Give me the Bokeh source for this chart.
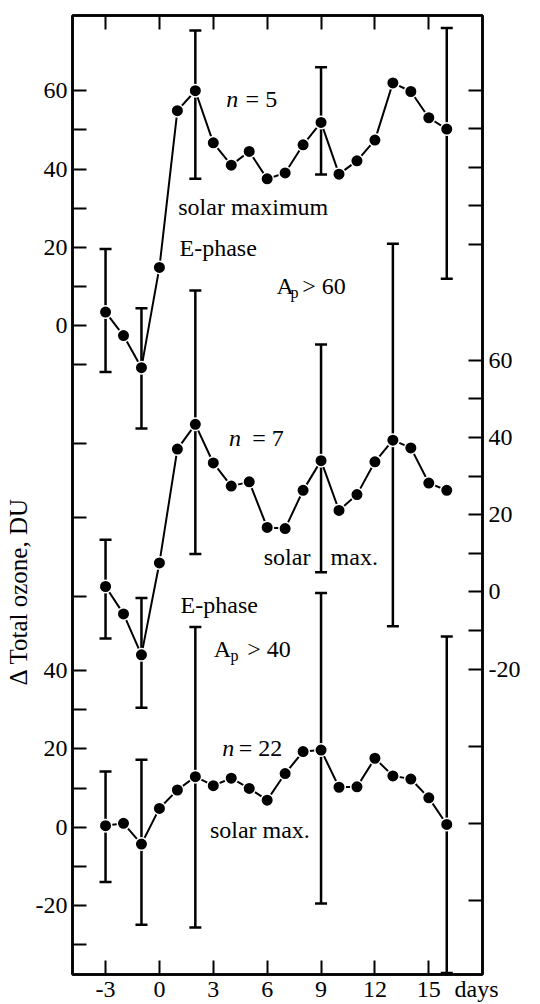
import math
from bokeh.plotting import figure
from bokeh.models import (ColumnDataSource, Range1d, LinearAxis, FixedTicker,
                          Whisker, TeeHead, Label, Title)
from bokeh.embed import file_html
from bokeh.resources import INLINE

# ---------------- data ----------------
days = list(range(-3, 17))
x_ticks = [-3, 0, 3, 6, 9, 12, 15]
x_unit_pos = 17.66          # where the "days" unit label sits on the x axis

# top series (Ap > 60, n = 5) -- left axis, upper part
top_vals = [3.5, -2.5, -10.7, 14.9, 54.9, 60.0, 46.7, 41.0, 44.5, 37.5,
            39.0, 46.2, 51.9, 38.7, 42.1, 47.4, 62.0, 59.8, 53.1, 50.2]
top_err_days = [-3, -1, 2, 9, 16]
top_err_upper = [19.6, 4.5, 75.4, 66.0, 76.0]
top_err_lower = [-11.8, -26.2, 37.5, 38.6, 12.0]

# middle series (Ap > 40, n = 7) -- right axis
mid_vals = [1.4, -5.7, -16.3, 7.5, 37.0, 43.4, 33.4, 27.4, 28.5, 16.7,
            16.4, 26.3, 34.0, 21.1, 25.2, 33.7, 39.3, 37.3, 28.2, 26.3]
mid_err_days = [-3, -1, 2, 9, 13]
mid_err_upper = [13.5, -1.6, 78.1, 64.1, 90.2]
mid_err_lower = [-12.1, -30.0, 9.8, 5.1, -8.9]

# bottom series (n = 22) -- left axis, lower part
bot_vals = [0.4, 1.0, -4.3, 4.8, 9.5, 12.9, 10.6, 12.5, 9.9, 6.9,
            13.7, 19.3, 19.7, 10.2, 10.3, 17.6, 13.1, 12.3, 7.5, 0.7]
bot_err_days = [-3, -1, 2, 9, 16]
bot_err_upper = [14.2, 17.2, 51.1, 59.8, 48.7]
bot_err_lower = [-14.0, -24.9, -25.6, -19.5, -37.2]

# axis ticks
top_offset = 128  # top series zero sits at 128 on the left (bottom-series) scale
left_ticks = [-30, -20, -10, 0, 10, 20, 30, 40, 59, 79, 98,
              118, 128, 138, 148, 158, 168, 178, 188]
left_labels = {-20: "-20", 0: "0", 20: "20", 40: "40",
               128: "0", 148: "20", 168: "40", 188: "60"}
right_ticks = [-80, -60, -40, -20, -10, 0, 10, 20, 30, 40, 50, 60,
               90, 100, 110, 120, 130]
right_labels = {-20: "-20", 0: "0", 20: "20", 40: "40", 60: "60"}

FONT = "Liberation Serif"
TICK_FS = "24px"
ANN_FS = "24px"

# ---------------- figure ----------------
y0, y1 = -37.6, 207.2
p = figure(width=540, height=1004,
           x_range=Range1d(-4.84, 17.99), y_range=Range1d(y0, y1),
           output_backend="svg", toolbar_location=None,
           min_border_left=72, min_border_right=58,
           min_border_top=15, min_border_bottom=28,
           background_fill_color="white", border_fill_color="white",
           outline_line_color="black", outline_line_width=2.5)
p.xgrid.visible = False
p.ygrid.visible = False

p.extra_y_ranges = {
    "top": Range1d(y0 - top_offset, y1 - top_offset),
    "mid": Range1d(-99.1, 149.3),
}


def style_axis(ax, ticks, overrides, labels_visible=True, tick_in=14):
    ax.ticker = FixedTicker(ticks=ticks, minor_ticks=[])
    ax.major_label_overrides = overrides
    ax.major_tick_in = tick_in
    ax.major_tick_out = 0
    ax.minor_tick_in = 0
    ax.minor_tick_out = 0
    ax.major_tick_line_width = 2
    ax.major_tick_line_color = "black"
    ax.axis_line_width = 2.5
    ax.axis_line_color = "black"
    ax.major_label_text_font = FONT
    ax.major_label_text_font_size = TICK_FS if labels_visible else "0px"
    ax.major_label_text_color = "black"


# left axis
left = p.yaxis[0]
style_axis(left, left_ticks,
           {t: left_labels.get(t, "") for t in left_ticks})
left.major_label_standoff = 5

# bottom axis: tick marks only (nearest the frame)
bottom = p.xaxis[0]
style_axis(bottom, x_ticks, {t: "" for t in x_ticks}, labels_visible=False)
bottom.major_label_standoff = 0

# bottom labels axis (numbers + unit), no tick marks
bottom_lab = LinearAxis()
lab_ticks = x_ticks + [x_unit_pos]
lab_over = {t: str(t) for t in x_ticks}
lab_over[x_unit_pos] = "days"
style_axis(bottom_lab, lab_ticks, lab_over, tick_in=0)
bottom_lab.axis_line_color = None
bottom_lab.major_tick_line_color = None
bottom_lab.major_label_standoff = 1
p.add_layout(bottom_lab, "below")

# right axis (middle series)
right = LinearAxis(y_range_name="mid")
style_axis(right, right_ticks,
           {t: right_labels.get(t, "") for t in right_ticks})
right.major_label_standoff = 6
p.add_layout(right, "right")

# top axis (ticks only)
above = LinearAxis()
style_axis(above, x_ticks, {t: "" for t in x_ticks}, labels_visible=False)
above.major_label_standoff = 0
p.add_layout(above, "above")

# y-axis title, placed low as in the original
p.add_layout(Title(text="\u0394 Total ozone, DU", align="left", offset=289,
                   vertical_align="middle", standoff=0,
                   text_font=FONT, text_font_size="25px",
                   text_font_style="normal", text_color="black"), "left")


# ---------------- series ----------------
def draw_series(vals, err_days, err_up, err_lo, range_name):
    src = ColumnDataSource(dict(x=days, y=vals))
    esrc = ColumnDataSource(dict(x=err_days, upper=err_up, lower=err_lo))
    w = Whisker(source=esrc, base="x", upper="upper", lower="lower",
                dimension="height", line_width=2.5, line_color="black",
                upper_head=TeeHead(size=12, line_width=2.5, line_color="black"),
                lower_head=TeeHead(size=12, line_width=2.5, line_color="black"),
                level="underlay")
    if range_name != "default":
        w.y_range_name = range_name
    p.add_layout(w)
    p.line("x", "y", source=src, line_width=2, line_color="black",
           y_range_name=range_name)
    p.scatter("x", "y", source=src, marker="circle", size=12.5,
              fill_color="black", line_color="white", line_width=1.5,
              y_range_name=range_name)


draw_series(top_vals, top_err_days, top_err_upper, top_err_lower, "top")
draw_series(mid_vals, mid_err_days, mid_err_upper, mid_err_lower, "mid")
draw_series(bot_vals, bot_err_days, bot_err_upper, bot_err_lower, "default")


# ---------------- annotations ----------------
def txt(text, x, y, rng="default", size=ANN_FS, style="normal"):
    lab = Label(x=x, y=y, text=text, text_font=FONT, text_font_size=size,
                text_font_style=style, text_color="black",
                text_align="left", text_baseline="alphabetic")
    if rng != "default":
        lab.y_range_name = rng
    p.add_layout(lab)


# top block
txt("n", 3.72, 57.9, "top", style="italic")
txt("= 5", 4.80, 57.9, "top")
txt("solar maximum", 1.05, 30.2, "top")
txt("E-phase", 1.12, 19.8, "top")
txt("A", 6.52, 10.2, "top")
txt("p", 7.30, 8.5, "top", size="16px")
txt("> 60", 7.95, 10.2, "top")

# middle block
txt("n", 3.87, 39.9, "mid", style="italic")
txt("= 7", 5.17, 39.9, "mid")
txt("solar", 5.81, 9.0, "mid")
txt("max.", 9.53, 9.0, "mid")
txt("E-phase", 1.18, -3.3, "mid")
txt("A", 3.03, -14.7, "mid")
txt("p", 3.96, -16.5, "mid", size="16px")
txt("> 40", 4.89, -14.7, "mid")

# bottom block
txt("n", 3.50, 20.1, style="italic")
txt("= 22", 4.42, 20.1)
txt("solar max.", 2.81, -0.7)

open("out.html", "w").write(file_html(p, INLINE))
